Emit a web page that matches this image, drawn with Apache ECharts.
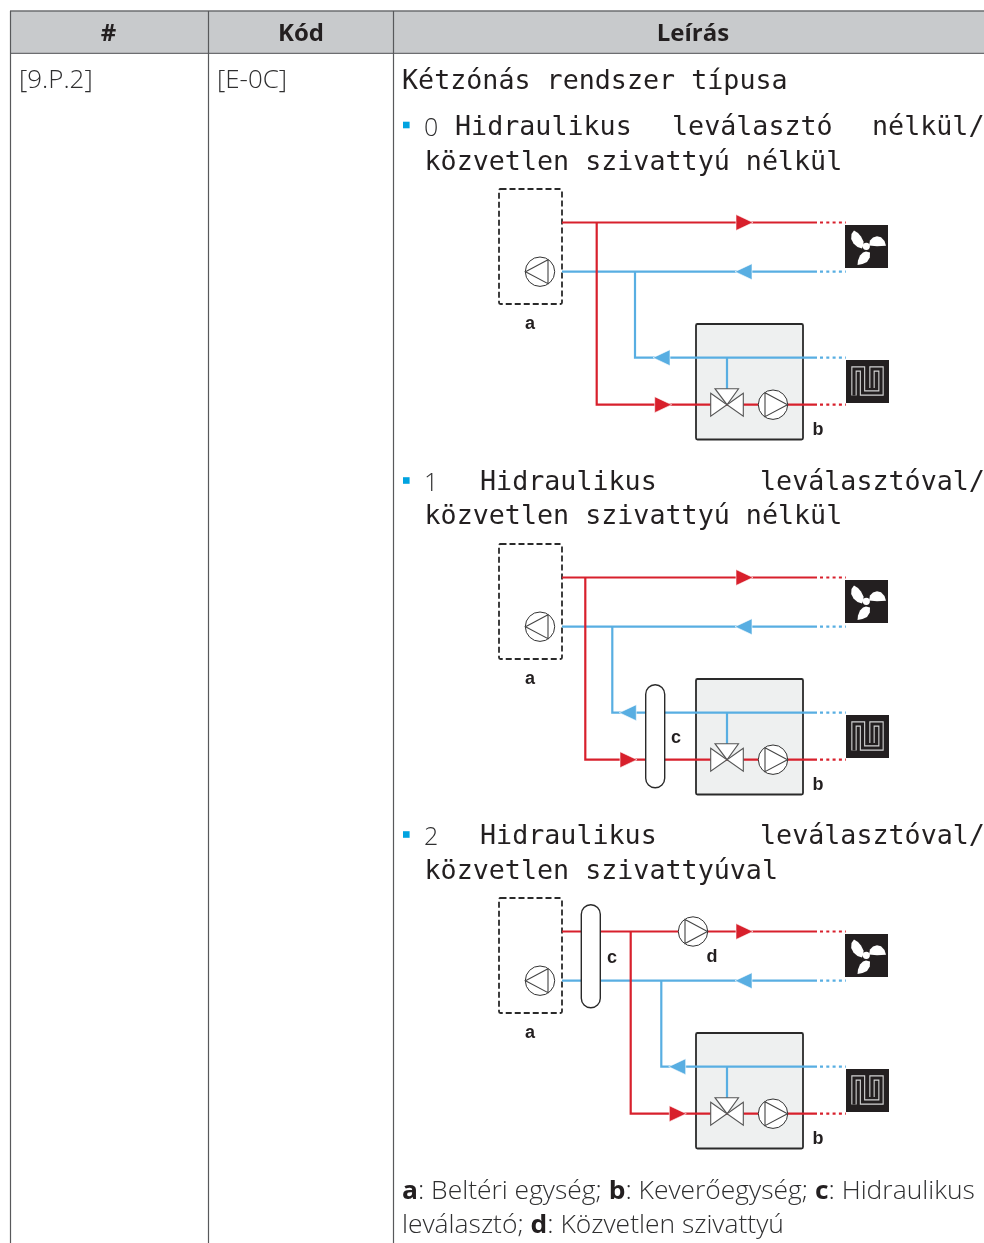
<!DOCTYPE html>
<html><head><meta charset="utf-8">
<style>html,body{margin:0;padding:0;background:#fff}#c{width:984px;height:1243px}</style>
<script src="https://cdn.jsdelivr.net/npm/echarts@6/dist/echarts.min.js"></script></head>
<body><div id="c"></div>
<script>
// ---- table content ----
const headers = [['#',108.5],['Kód',301],['Leírás',693]];
const columnLines = [10,208,393];
const rowCells = [['[9.P.2]',19],['[E-0C]',217]];
const introLine = ['Kétzónás rendszer típusa',402,96];
const optionNumbers = [['0',424,141],['1',424,496],['2',424,850]];
const optionWords = [
 ['Hidraulikus',455,142],['leválasztó',672,142],['nélkül/',872,142],
 ['közvetlen szivattyú nélkül',424.5,177],
 ['Hidraulikus',480,497],['leválasztóval/',760,497],
 ['közvetlen szivattyú nélkül',424.5,531],
 ['Hidraulikus',480,851],['leválasztóval/',760,851],
 ['közvetlen szivattyúval',424.5,886]];
const bullets = [125,480.5,834.5];
const legendLines = [
 ['{b|a}: Beltéri egység; {b|b}: Keverőegység; {b|c}: Hidraulikus',402,1205],
 ['leválasztó; {b|d}: Közvetlen szivattyú',402,1239]];
// ---- diagrams: one entry per option ----
const diagramY = [0,355,709];
const topRed = 222.5, topBlue = 271.7, lowBlue = 357.7, lowRed = 404.7;
const redRiserX = [596.7,585.3,630.7];
const blueRiserX = [635,612.3,661.3];
const lowBlueArrowTip = [653,619.3,668.7];
const lowRedArrowBase = [654.7,620,669.3];
const pillBoxes = [null,[645.7,329.7],[581.3,195.7]];
const pillLabels = [null,[676,392],[612,258]];
const directPump = [null,null,[693,222.5]];
const directPumpLabel = [null,null,[712,257]];
const fanBlades = [
 [[9,5.5],[6.5,9],[6.2,14],[8.5,18.5],[12.5,22],[17,23.5],[18.5,20],[18.5,16.5],[16,11.5],[13,8]],
 [[24,20.5],[25,15.5],[28,12.5],[32,11.3],[36,12.3],[39.5,16],[41,20.8],[32,21.3]],
 [[12.5,40],[13,35.5],[15,30.5],[18,27.5],[21,26.5],[25,27.5],[24.8,32.5],[22,37],[17.5,39]]];
const floorCoil = [[8,35.5],[8,9],[16.5,9],[16.5,33],[35,33],[35,9],[26,9],[26,28]];
const RED='#d8202c', BLUE='#58aee2', INK='#231f20', BOXFILL='#eef0f0';

// build marks
const marks=[];
const line=(pts,color,w,dash)=>marks.push({k:'line',pts,color,w,dash});
const poly=(pts,fill,stroke,w)=>marks.push({k:'poly',pts,fill,stroke,w});
const rect=(x,y,w,h,o)=>marks.push(Object.assign({k:'rect',x,y,w,h},o));
const circ=(x,y,r,fill,stroke,w)=>marks.push({k:'circ',x,y,r,fill,stroke,w});
const text=(t,x,y,o)=>marks.push(Object.assign({k:'text',t,x,y},o));
const BODY='"Open Sans"', MONO='"DejaVu Sans Mono"', ARIAL='"Liberation Sans"';

// table
rect(10,11,974,42,{fill:'#c8cacc'});
line([[10,11],[984,11]],'#6d6e71',1.3);
line([[10,53.3],[984,53.3]],'#6d6e71',1.3);
columnLines.forEach(x=>line([[x+.5,11],[x+.5,1243]],'#58595b',1.2));
headers.forEach(h=>text(h[0],h[1],46.5,{font:BODY,size:24,weight:'bold',align:'center',fill:INK}));
rowCells.forEach(c=>text(c[0],c[1],94,{font:BODY,size:25.5,weight:300,fill:'#2f2f30',sx:1.017}));
text(introLine[0],introLine[1],introLine[2],{font:MONO,size:26.7,fill:INK});
optionNumbers.forEach(n=>text(n[0],n[1],n[2],{font:BODY,size:25,weight:300,fill:'#2f2f30'}));
optionWords.forEach(n=>text(n[0],n[1],n[2],{font:MONO,size:26.7,fill:INK}));
bullets.forEach(y=>rect(403,y-3.3,6.6,6.6,{fill:'#00a3e0'}));
legendLines.forEach(l=>text(l[0],l[1],l[2],{font:BODY,size:25.5,weight:300,fill:'#2f2f30',rich:true,sx:1.036}));

const rightPump=(cx,cy)=>{circ(cx,cy,14.7,'#fff','#333',1);poly([[cx-8,cy-12],[cx+14.5,cy],[cx-8,cy+12]],'#fff','#444',1.1);};
const leftPump=(cx,cy)=>{circ(cx,cy,14.7,'#fff','#333',1);poly([[cx+8,cy-12],[cx-14.5,cy],[cx+8,cy+12]],'#fff','#444',1.1);};
const arrowR=(x,y,c)=>poly([[x,y-8],[x+17,y],[x,y+8]],c,'#fff',.6);
const arrowL=(x,y,c)=>poly([[x,y],[x+17,y-8],[x+17,y+8]],c,'#fff',.6);
const LAB={font:ARIAL,size:18,weight:'bold',align:'center',fill:INK};
const PIPE=2.2;

diagramY.forEach((dy,i)=>{
 // dashed unit
 rect(499,189+dy,63,115,{stroke:'#2a2a2a',sw:1.8,dash:[6,3],r:1.5,fill:'#fff'});
 text('a',530,333+dy,LAB);
 // mixing box
 rect(696,324+dy,107,115.5,{fill:BOXFILL,stroke:'#2a2a2a',sw:1.8,r:1.5});
 text('b',818,439.5+dy,LAB);
 // blue pipes
 line([[562,topBlue+dy],[817,topBlue+dy]],BLUE,PIPE);
 line([[blueRiserX[i],topBlue+dy],[blueRiserX[i],lowBlue+dy],[817,lowBlue+dy]],BLUE,PIPE);
 line([[727,lowBlue+dy],[727,389+dy]],BLUE,PIPE);
 line([[820,topBlue+dy],[846,topBlue+dy]],BLUE,PIPE,[3,3.3]);
 line([[820,lowBlue+dy],[846,lowBlue+dy]],BLUE,PIPE,[3,3.3]);
 // red pipes
 line([[562,topRed+dy],[817,topRed+dy]],RED,PIPE);
 line([[redRiserX[i],topRed+dy],[redRiserX[i],lowRed+dy],[817,lowRed+dy]],RED,PIPE);
 line([[820,topRed+dy],[846,topRed+dy]],RED,PIPE,[3,3.3]);
 line([[820,lowRed+dy],[846,lowRed+dy]],RED,PIPE,[3,3.3]);
 // arrows
 arrowR(736,topRed+dy,RED);
 arrowL(735,topBlue+dy,BLUE);
 arrowL(lowBlueArrowTip[i],lowBlue+dy,BLUE);
 arrowR(lowRedArrowBase[i],lowRed+dy,RED);
 // indoor pump
 leftPump(540,topBlue+dy);
 // valve
 const vy=lowRed+dy;
 poly([[715,vy-16],[738.5,vy-16],[727,vy]],'#fff','#555',1.1);
 poly([[710.7,vy-11.5],[727,vy],[710.7,vy+11.5]],'#fff','#555',1.1);
 poly([[743.3,vy-11.5],[727,vy],[743.3,vy+11.5]],'#fff','#555',1.1);
 // mixing pump
 rightPump(773,vy);
 // hydraulic separator
 if(pillBoxes[i]){
  rect(pillBoxes[i][0],pillBoxes[i][1]+dy,19,103,{fill:'#fff',stroke:'#2a2a2a',sw:1.4,r:9.5});
  text('c',pillLabels[i][0],pillLabels[i][1]+dy,LAB);
 }
 if(directPump[i]){
  rightPump(directPump[i][0],directPump[i][1]+dy);
  text('d',directPumpLabel[i][0],directPumpLabel[i][1]+dy,LAB);
 }
 // fan icon
 const fx=845,fy=225+dy;
 rect(fx,fy,43,43,{fill:INK});
 fanBlades.forEach(b=>poly(b.map(p=>[fx+p[0],fy+p[1]]),'#fff'));
 circ(fx+21.3,fy+21.3,3.6,'#fff');
 // floor icon
 const hx=846,hy=360+dy;
 rect(hx,hy,43,43,{fill:INK});
 const coil=floorCoil.map(p=>[hx+p[0],hy+p[1]]);
 line(coil,'#d5d5d5',5.4);
 line(coil,INK,3.2);
});

function renderItem(params,api){
 const m=marks[params.dataIndex];
 const P=p=>api.coord(p);
 if(m.k==='line'){
  return {type:'polyline',shape:{points:m.pts.map(P)},style:{stroke:m.color,lineWidth:m.w,fill:null,lineDash:m.dash||null,lineJoin:'miter'}};
 }
 if(m.k==='poly'){
  return {type:'polygon',shape:{points:m.pts.map(P)},style:{fill:m.fill,stroke:m.stroke||null,lineWidth:m.w||0}};
 }
 if(m.k==='rect'){
  const a=P([m.x,m.y]);
  return {type:'rect',shape:{x:a[0],y:a[1],width:m.w,height:m.h,r:m.r||0},style:{fill:m.fill||null,stroke:m.stroke||null,lineWidth:m.sw||0,lineDash:m.dash||null}};
 }
 if(m.k==='circ'){
  const a=P([m.x,m.y]);
  return {type:'circle',shape:{cx:a[0],cy:a[1],r:m.r},style:{fill:m.fill,stroke:m.stroke||null,lineWidth:m.w||0}};
 }
 const a=P([m.x,m.y]);
 const st={text:m.t,x:0,y:0,fill:m.fill,align:m.align||'left',verticalAlign:'bottom',
   font:(m.weight||'normal')+' '+m.size+'px '+m.font};
 if(m.rich){st.rich={b:{fontFamily:'Open Sans',fontSize:m.size,fontWeight:'bold',fill:INK,verticalAlign:'bottom'}};}
 return {type:'text',x:a[0],y:a[1],scaleX:m.sx||1,style:st};
}
const chart=echarts.init(document.getElementById('c'),null,{renderer:'canvas'});
chart.setOption({
 animation:false,
 grid:{left:0,right:0,top:0,bottom:0},
 xAxis:{type:'value',min:0,max:984,show:false},
 yAxis:{type:'value',min:0,max:1243,inverse:true,show:false},
 series:[{type:'custom',coordinateSystem:'cartesian2d',clip:false,silent:true,
   data:marks.map((m,i)=>[i,0]),encode:{x:1,y:1},renderItem}]
});
</script></body></html>
